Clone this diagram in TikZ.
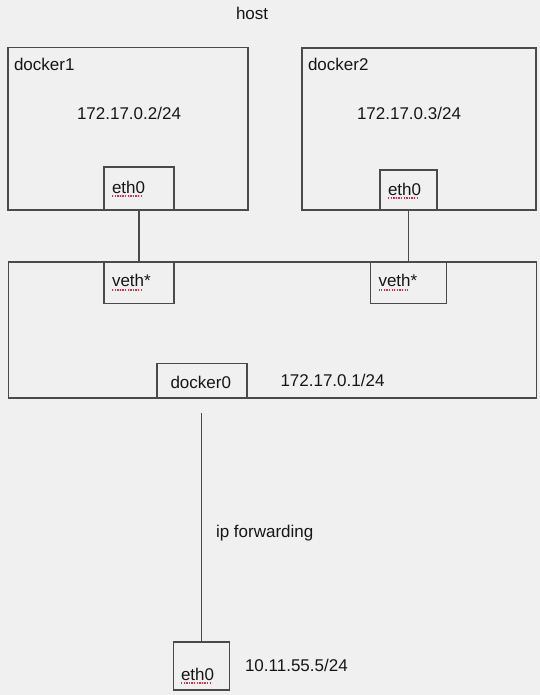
\documentclass[tikz,border=0pt]{standalone}
\usepackage{fontspec}
\setmainfont{Liberation Sans}
\definecolor{bg}{HTML}{F0F0F0}
\definecolor{edge}{HTML}{4A4A4A}
\definecolor{ink}{HTML}{161616}
\definecolor{spell}{HTML}{D0304A}
\begin{document}
\begin{tikzpicture}[x=1bp,y=-1bp,
  box/.style={draw=edge, line width=1.3bp, inner sep=0pt, outer sep=0pt},
  lbl/.style={anchor=base west, inner sep=0pt, outer sep=0pt, text=ink, font=\fontsize{17bp}{20bp}\selectfont},
  wire/.style={draw=edge, line width=1.3bp},
  squig/.style={draw=spell, line width=1.3bp, dash pattern=on 1.3bp off 1.3bp}]
\useasboundingbox[fill=bg] (0,0) rectangle (540,695);
% boxes
\node[box, minimum width=240bp, minimum height=162.5bp] (d1) at (128,128.75) {};
\node[box, minimum width=234bp, minimum height=162bp] (d2) at (419,129) {};
\node[box, minimum width=528bp, minimum height=136bp] (br) at (272.2,330) {};
\node[box, minimum width=70bp, minimum height=43bp] (e1) at (139,188.5) {};
\node[box, minimum width=57bp, minimum height=40bp] (e2) at (408.5,190) {};
\node[box, minimum width=70bp, minimum height=41.5bp] (v1) at (139,282.75) {};
\node[box, minimum width=76bp, minimum height=41.5bp] (v2) at (408.5,282.75) {};
\node[box, minimum width=90bp, minimum height=34.5bp] (d0) at (202,380.75) {};
\node[box, minimum width=56bp, minimum height=48bp] (e3) at (201.5,666) {};
% texts
\node[lbl] (thost) at (236,20) {host};
\node[lbl] (td1) at (14,71) {docker1};
\node[lbl] (tip1) at (77,120) {172.17.0.2/24};
\node[lbl] (td2) at (308,71) {docker2};
\node[lbl] (tip2) at (357,120) {172.17.0.3/24};
\node[lbl] (te1) at (112,193) {eth0};
\node[lbl] (te2) at (388,195) {eth0};
\node[lbl] (tv1) at (112,286.5) {veth*};
\node[lbl] (tv2) at (378.5,286.5) {veth*};
\node[lbl] (td0) at (170.5,388.5) {docker0};
\node[lbl] (tip0) at (280.5,386) {172.17.0.1/24};
\node[lbl] (tfwd) at (216,537) {ip forwarding};
\node[lbl] (te3) at (181,680) {eth0};
\node[lbl] (tip3) at (245,671) {10.11.55.5/24};
% spell-check underlines
\draw[squig] ([yshift=-3bp]te1.base west) -- ([yshift=-3bp,xshift=-3bp]te1.base east);
\draw[squig] ([yshift=-3bp]te2.base west) -- ([yshift=-3bp,xshift=-3bp]te2.base east);
\draw[squig] ([yshift=-3.5bp]tv1.base west) -- ([yshift=-3.5bp,xshift=-9bp]tv1.base east);
\draw[squig] ([yshift=-3.5bp]tv2.base west) -- ([yshift=-3.5bp,xshift=-9bp]tv2.base east);
\draw[squig] ([yshift=-3bp]te3.base west) -- ([yshift=-3bp,xshift=-3bp]te3.base east);
% connectors
\draw[wire] (e1.south) -- (v1.north);
\draw[wire] (e2.south) -- (v2.north);
\coordinate (fwd) at (201.5,413);
\draw[wire] (fwd) -- (e3.north);
\end{tikzpicture}
\end{document}
